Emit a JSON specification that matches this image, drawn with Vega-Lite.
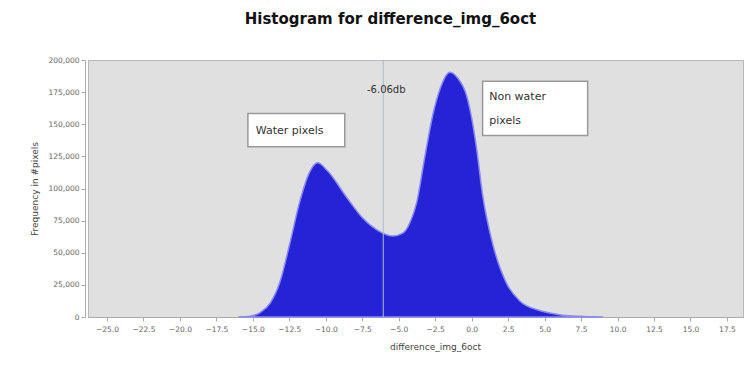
{
  "$schema": "https://vega.github.io/schema/vega-lite/v6.json",
  "width": 655,
  "height": 257,
  "autosize": {"type": "none"},
  "padding": {"left": 88, "top": 60, "right": 4, "bottom": 48},
  "background": "white",
  "title": {"text": "Histogram for difference_img_6oct", "fontSize": 15, "fontWeight": "bold", "font": "DejaVu Sans", "color": "#111", "offset": 29, "dx": -25},
  "config": {
    "view": {"fill": "#e0e0e0", "stroke": "#b8b8b8"},
    "axis": {"labelFont": "DejaVu Sans", "titleFont": "DejaVu Sans", "labelColor": "#666", "titleColor": "#444", "labelFontSize": 7.5, "titleFontSize": 9, "titleFontWeight": "normal", "grid": false, "domainColor": "#aaa", "tickColor": "#aaa", "tickSize": 4}
  },
  "datasets": {
    "hist": [
      {"x": -16.0, "y": 0},
      {"x": -15.2, "y": 600},
      {"x": -14.5, "y": 3500},
      {"x": -13.8, "y": 11000},
      {"x": -13.15, "y": 27000},
      {"x": -12.47, "y": 57000},
      {"x": -11.78, "y": 90000},
      {"x": -11.1, "y": 113000},
      {"x": -10.55, "y": 120000},
      {"x": -9.9, "y": 114000},
      {"x": -8.56, "y": 93000},
      {"x": -7.47, "y": 77000},
      {"x": -6.3, "y": 66500},
      {"x": -5.4, "y": 63000},
      {"x": -4.7, "y": 65500},
      {"x": -4.25, "y": 73000},
      {"x": -3.77, "y": 89000},
      {"x": -3.22, "y": 124000},
      {"x": -2.67, "y": 157000},
      {"x": -2.12, "y": 179000},
      {"x": -1.5, "y": 190500},
      {"x": -0.96, "y": 186000},
      {"x": -0.34, "y": 172000},
      {"x": 0.0, "y": 155000},
      {"x": 0.34, "y": 131000},
      {"x": 0.75, "y": 95000},
      {"x": 1.44, "y": 57000},
      {"x": 2.4, "y": 26000},
      {"x": 3.3, "y": 12500},
      {"x": 4.66, "y": 5000},
      {"x": 6.0, "y": 1800},
      {"x": 7.4, "y": 500},
      {"x": 9.0, "y": 0}
    ],
    "boxes": [
      {"x": -15.34, "x2": -8.7, "y": 132500, "y2": 158400},
      {"x": 0.75, "x2": 7.95, "y": 141200, "y2": 183500}
    ],
    "labels": [
      {"x": -14.8, "y": 145000, "label": "Water pixels"},
      {"x": 1.2, "y": 171000, "label": "Non water"},
      {"x": 1.2, "y": 152500, "label": "pixels"}
    ],
    "threshold": [{"x": -6.06, "y": 0, "y2": 200000}],
    "thresholdLabel": [{"x": -6.06, "y": 176500, "label": "-6.06db"}]
  },
  "encoding": {
    "x": {"field": "x", "type": "quantitative", "scale": {"domain": [-26.3, 18.6], "nice": false, "zero": false},
      "axis": {"values": [-25, -22.5, -20, -17.5, -15, -12.5, -10, -7.5, -5, -2.5, 0, 2.5, 5, 7.5, 10, 12.5, 15, 17.5], "format": ".1f", "title": "difference_img_6oct", "labelPadding": 4, "titlePadding": 10, "titleX": 347, "labelOverlap": false, "labelFlush": false}},
    "y": {"field": "y", "type": "quantitative", "scale": {"domain": [0, 200000], "nice": false},
      "axis": {"values": [0, 25000, 50000, 75000, 100000, 125000, 150000, 175000, 200000], "format": ",d", "title": "Frequency in #pixels", "titlePadding": 8, "offset": 3, "labelOverlap": false, "labelFlush": false}}
  },
  "layer": [
    {
      "data": {"name": "hist"},
      "mark": {"type": "area", "interpolate": "monotone", "color": "#2424d6", "stroke": "#8a8af0", "strokeWidth": 1.5}
    },
    {
      "data": {"name": "threshold"},
      "mark": {"type": "rule", "color": "#a9bccb", "strokeWidth": 1},
      "encoding": {"y2": {"field": "y2"}}
    },
    {
      "data": {"name": "thresholdLabel"},
      "mark": {"type": "text", "font": "DejaVu Sans", "fontSize": 10, "color": "#333", "dx": 3},
      "encoding": {"text": {"field": "label"}}
    },
    {
      "data": {"name": "boxes"},
      "mark": {"type": "rect", "fill": "white", "stroke": "#999", "strokeWidth": 1.5},
      "encoding": {"x2": {"field": "x2"}, "y2": {"field": "y2"}}
    },
    {
      "data": {"name": "labels"},
      "mark": {"type": "text", "align": "left", "baseline": "middle", "font": "DejaVu Sans", "fontSize": 11, "color": "#333"},
      "encoding": {"text": {"field": "label"}}
    }
  ]
}
